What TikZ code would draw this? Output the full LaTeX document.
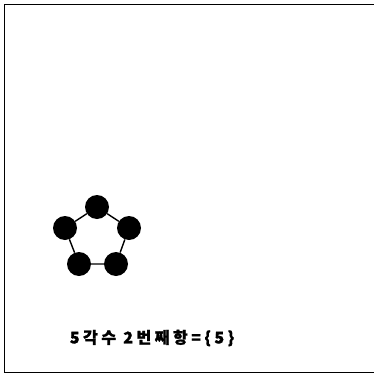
\documentclass[tikz,border=0pt]{standalone}
\usepackage{fontspec}
\newfontfamily\kr[LetterSpace=22,BoldFeatures={FakeBold=1.2}]{Noto Sans CJK KR}
\tikzset{
  vtx/.style={circle,fill=black,inner sep=0pt,minimum size=24pt},
  edge/.style={draw=black,line width=1.4pt},
  frame/.style={draw=black,line width=1.8pt}
}
\begin{document}
\begin{tikzpicture}[x=1pt,y=-1pt]
\useasboundingbox (0,0) rectangle (374,375);
\coordinate (tl) at (4.5,4.5);
\coordinate (tr) at (374,4.5);
\coordinate (bl) at (4.5,372.5);
\coordinate (br) at (374,372.5);
\draw[frame] (tr) -- (tl) -- (bl) -- (br);
\node[vtx] (a) at (97,207) {};
\node[vtx] (b) at (129,228) {};
\node[vtx] (c) at (116,264) {};
\node[vtx] (d) at (79,264) {};
\node[vtx] (e) at (65,228) {};
\draw[edge] (a) -- (b) -- (c) -- (d) -- (e) -- (a);
\node[font=\kr\bfseries\fontsize{16}{18}\selectfont,inner sep=0pt] (t) at (152,338) {5각수 2번째항=\{5\}};
\end{tikzpicture}
\end{document}
